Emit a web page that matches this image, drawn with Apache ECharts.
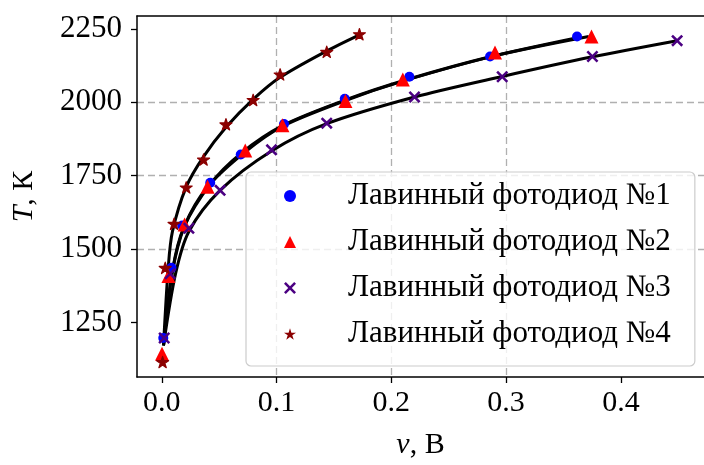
<!DOCTYPE html>
<html>
<head>
<meta charset="utf-8">
<script src="https://cdn.jsdelivr.net/npm/echarts@6/dist/echarts.min.js"></script>
<style>
html,body{margin:0;padding:0;background:#fff;}
#chart{width:704px;height:465px;}
</style>
</head>
<body>
<div id="chart"></div>
<script>
// ---- data ----
const names = ['Лавинный фотодиод №1', 'Лавинный фотодиод №2', 'Лавинный фотодиод №3', 'Лавинный фотодиод №4'];

const v1 = [0.0013, 0.0084, 0.0178, 0.0422, 0.0688, 0.1065, 0.1594, 0.2157, 0.286, 0.3618];
const T1 = [1197, 1436, 1580, 1726, 1822, 1926, 2012, 2087, 2156, 2224];

const v2 = [0.0002, 0.0058, 0.0199, 0.0399, 0.0727, 0.1051, 0.16, 0.21, 0.2903, 0.3744];
const T2 = [1143, 1408, 1584, 1712, 1836, 1922, 2004, 2078, 2170, 2224];

const v3 = [0.0021, 0.0073, 0.0236, 0.0508, 0.0956, 0.1437, 0.2202, 0.2966, 0.3752, 0.449];
const T3 = [1197, 1416, 1571, 1700, 1838, 1929, 2018, 2087, 2156, 2210];

const v4 = [0.0007, 0.003, 0.0107, 0.0213, 0.0364, 0.0559, 0.0796, 0.1031, 0.1437, 0.1722];
const T4 = [1115, 1436, 1586, 1710, 1805, 1925, 2008, 2095, 2172, 2232];

// fitted curves
const fit1V = [0.0015, 0.0095, 0.019, 0.042, 0.069, 0.106, 0.16, 0.216, 0.286, 0.362];
const fit1T = [1172, 1430, 1572, 1720, 1826, 1922, 2008, 2080, 2155, 2220];
const fit2V = [0.0015, 0.009, 0.02, 0.04, 0.073, 0.105, 0.16, 0.21, 0.29, 0.372];
const fit2T = [1172, 1418, 1580, 1712, 1832, 1918, 2006, 2072, 2158, 2224];
const fit3V = [0.0015, 0.012, 0.0236, 0.0508, 0.0956, 0.1437, 0.2202, 0.2966, 0.3752, 0.449];
const fit3T = [1172, 1416, 1560, 1700, 1834, 1927, 2018, 2088, 2155, 2210];
const fit4V = [0.0015, 0.0056, 0.0093, 0.0213, 0.0364, 0.0559, 0.0796, 0.1031, 0.1437, 0.1722];
const fit4T = [1172, 1436, 1560, 1712, 1815, 1915, 2010, 2085, 2175, 2230];

const xTicks = [0, 0.1, 0.2, 0.3, 0.4];
const yTicks = [1250, 1500, 1750, 2000, 2250];

// ---- styling ----
const FONT = '"Liberation Serif", "Times New Roman", serif';
const FS = 30;
const colors = ['#0000ff', '#ff0000', '#4b0082', '#8b0000'];
const xPath = 'path://M1.5,0 L5,3.5 L8.5,0 L10,1.5 L6.5,5 L10,8.5 L8.5,10 L5,6.5 L1.5,10 L0,8.5 L3.5,5 L0,1.5 Z';
const starPath = 'path://M50,0 L61.2,34.5 L97.6,34.5 L68.2,55.9 L79.4,90.5 L50,69.1 L20.6,90.5 L31.8,55.9 L2.4,34.5 L38.8,34.5 Z';
const symbols = ['circle', 'triangle', xPath, starPath];
const sizes = [10, 14, 12, 12];
const borders = [0, 0, 0, 1.2];

const zip = (a, b) => a.map((x, i) => [x, b[i]]);

const scatterData = [zip(v1, T1), zip(v2, T2), zip(v3, T3), zip(v4, T4)];
const fitData = [zip(fit1V, fit1T), zip(fit2V, fit2T), zip(fit3V, fit3T), zip(fit4V, fit4T)];

const XMIN = -0.0216, XMAX = 0.4724, YMIN = 1064, YMAX = 2294;

const series = [];
fitData.forEach((d) => {
  series.push({
    type: 'line', data: d, showSymbol: false, symbol: 'none',
    smooth: 0.3,
    lineStyle: { color: '#000', width: 3 }, z: 2, silent: true
  });
});
scatterData.forEach((d, i) => {
  series.push({
    name: names[i], type: 'scatter', data: d,
    symbol: symbols[i], symbolSize: sizes[i], symbolKeepAspect: true,
    itemStyle: { color: colors[i], opacity: 1, borderColor: colors[i], borderWidth: borders[i], borderJoin: 'round' }, z: 5
  });
});

const legendSizes = [11, 13, 11, 10];
const nameStyle = { fontFamily: FONT, fontSize: FS, color: '#000',
  rich: { i: { fontFamily: FONT, fontStyle: 'italic', fontSize: FS, color: '#000' } } };
const gridLine = { show: true, showMinLine: false, showMaxLine: false,
  lineStyle: { color: '#b0b0b0', width: 1.3, type: [7, 4] } };

const chart = echarts.init(document.getElementById('chart'), null, { renderer: 'canvas' });
chart.setOption({
  animation: false,
  backgroundColor: '#fff',
  textStyle: { fontFamily: FONT },
  grid: { left: 137, top: 16, width: 576, height: 364, containLabel: false },
  legend: {
    orient: 'vertical', left: 246, top: 172,
    data: names.map((n, i) => ({ name: n, itemStyle: { borderWidth: 0 } })),
    itemWidth: 12, itemHeight: 12, itemGap: 14,
    itemStyle: { borderWidth: 0 },
    padding: [8, 24, 16, 38],
    backgroundColor: 'rgba(255,255,255,0.8)',
    borderColor: '#cccccc', borderWidth: 1.2, borderRadius: 5,
    textStyle: { fontFamily: FONT, fontSize: 31, color: '#000', lineHeight: 32, padding: [0, 0, 0, 47] }
  },
  xAxis: [{
    type: 'value', min: XMIN, max: XMAX, minInterval: 0.1, maxInterval: 0.1,
    name: '{i|v}, В', nameLocation: 'middle', nameGap: 53,
    nameTextStyle: nameStyle,
    axisLine: { show: true, onZero: false, lineStyle: { color: '#000', width: 1.5 } },
    axisTick: { show: true, inside: false, length: 6, lineStyle: { color: '#000', width: 1.3 }, customValues: xTicks },
    axisLabel: { show: true, margin: 11, fontFamily: FONT, fontSize: FS, color: '#000', customValues: xTicks,
      formatter: v => Number(v).toFixed(1) },
    splitLine: gridLine
  }, {
    type: 'value', position: 'top', min: XMIN, max: XMAX,
    axisLine: { show: true, onZero: false, lineStyle: { color: '#000', width: 1.5 } },
    axisTick: { show: false }, axisLabel: { show: false }, splitLine: { show: false }
  }],
  yAxis: {
    type: 'value', min: YMIN, max: YMAX, minInterval: 250, maxInterval: 250,
    name: '{i|T}, К', nameLocation: 'middle', nameGap: 98, nameRotate: 90,
    nameTextStyle: nameStyle,
    axisLine: { show: true, onZero: false, lineStyle: { color: '#000', width: 1.5 } },
    axisTick: { show: true, inside: false, length: 6, lineStyle: { color: '#000', width: 1.3 }, customValues: yTicks },
    axisLabel: { show: true, margin: 15, fontFamily: FONT, fontSize: 31, color: '#000', customValues: yTicks,
      formatter: v => String(v) },
    splitLine: gridLine
  },
  series: series
});
</script>
</body>
</html>
